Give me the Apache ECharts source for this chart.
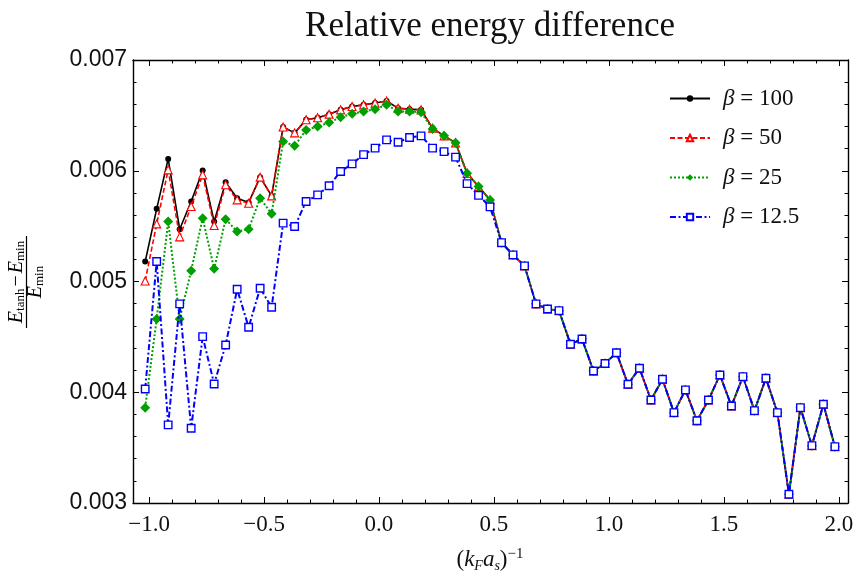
<!DOCTYPE html>
<html>
<head>
<meta charset="utf-8">
<script src="https://cdn.jsdelivr.net/npm/echarts@6/dist/echarts.min.js"></script>
<style>html,body{margin:0;padding:0;background:#fff;}#c{width:857px;height:576px;}</style>
</head>
<body>
<div id="c"></div>
<script>
// ---- data ----
const xs = [-1.017, -0.967, -0.917, -0.867, -0.817, -0.767, -0.717, -0.667, -0.617, -0.567,
  -0.517, -0.467, -0.417, -0.367, -0.317, -0.267, -0.217, -0.167, -0.117, -0.067,
  -0.017, 0.033, 0.083, 0.133, 0.183, 0.233, 0.283, 0.333, 0.383, 0.433,
  0.483, 0.533, 0.583, 0.633, 0.683, 0.733, 0.783, 0.833, 0.883, 0.933,
  0.983, 1.033, 1.083, 1.133, 1.183, 1.233, 1.283, 1.333, 1.383, 1.433,
  1.483, 1.533, 1.583, 1.633, 1.683, 1.733, 1.783, 1.833, 1.883, 1.933,
  1.983];

const beta100 = [0.00518, 0.005656, 0.006107, 0.005472, 0.005722, 0.006002, 0.005541, 0.005897, 0.005752, 0.005713,
  0.005942, 0.005773, 0.006395, 0.006342, 0.00646, 0.006478, 0.006511, 0.00655, 0.00658, 0.006595,
  0.006611, 0.00663, 0.006565, 0.006556, 0.00655, 0.006385, 0.006315, 0.006252, 0.005978, 0.005857,
  0.005737, 0.005351, 0.00524, 0.005141, 0.004798, 0.004752, 0.004737, 0.004434, 0.004481, 0.004192,
  0.00426, 0.004357, 0.004072, 0.004217, 0.00393, 0.004117, 0.003816, 0.004021, 0.003743, 0.00393,
  0.004156, 0.003876, 0.004141, 0.003834, 0.004126, 0.003816, 0.003079, 0.003861, 0.003518, 0.003892,
  0.003509];

const beta50 = [0.005005, 0.00552, 0.006008, 0.005403, 0.005677, 0.005963, 0.005505, 0.005873, 0.005737, 0.005707,
  0.005942, 0.005773, 0.006395, 0.006342, 0.00646, 0.006478, 0.006511, 0.00655, 0.00658, 0.006595,
  0.006611, 0.00663, 0.006565, 0.006556, 0.00655, 0.006385, 0.006315, 0.006252, 0.005978, 0.005857,
  0.005737, 0.005351, 0.00524, 0.005141, 0.004798, 0.004752, 0.004737, 0.004434, 0.004481, 0.004192,
  0.00426, 0.004357, 0.004072, 0.004217, 0.00393, 0.004117, 0.003816, 0.004021, 0.003743, 0.00393,
  0.004156, 0.003876, 0.004141, 0.003834, 0.004126, 0.003816, 0.003079, 0.003861, 0.003518, 0.003892,
  0.003509];

const beta25 = [0.003861, 0.004662, 0.005541, 0.004662, 0.005098, 0.005572, 0.005114, 0.005563, 0.005451, 0.005472,
  0.005752, 0.005611, 0.006264, 0.006225, 0.006369, 0.006399, 0.006435, 0.006484, 0.006514, 0.006535,
  0.006556, 0.006595, 0.006535, 0.006535, 0.006529, 0.006376, 0.006315, 0.006252, 0.005978, 0.005857,
  0.005737, 0.005351, 0.00524, 0.005141, 0.004798, 0.004752, 0.004737, 0.004434, 0.004481, 0.004192,
  0.00426, 0.004357, 0.004072, 0.004217, 0.00393, 0.004117, 0.003816, 0.004021, 0.003743, 0.00393,
  0.004156, 0.003876, 0.004141, 0.003834, 0.004126, 0.003816, 0.003079, 0.003861, 0.003518, 0.003892,
  0.003509];

const beta12_5 = [0.00403, 0.00518, 0.003705, 0.004798, 0.003675, 0.004502, 0.004075, 0.004427, 0.00493, 0.004587,
  0.004939, 0.004768, 0.005527, 0.005496, 0.005722, 0.005782, 0.005864, 0.005993, 0.006062, 0.006146,
  0.006204, 0.006279, 0.006258, 0.0063, 0.006315, 0.006204, 0.006173, 0.006123, 0.005884, 0.005778,
  0.005674, 0.005351, 0.00524, 0.005141, 0.004798, 0.004752, 0.004737, 0.004434, 0.004481, 0.004192,
  0.00426, 0.004357, 0.004072, 0.004217, 0.00393, 0.004117, 0.003816, 0.004021, 0.003743, 0.00393,
  0.004156, 0.003876, 0.004141, 0.003834, 0.004126, 0.003816, 0.003079, 0.003861, 0.003518, 0.003892,
  0.003509];

const seriesNames = ['β = 100', 'β = 50', 'β = 25', 'β = 12.5'];

const xMajorTicks = [-1, -0.5, 0, 0.5, 1, 1.5, 2];
const xMinorTicks = [-0.9, -0.8, -0.7, -0.6, -0.4, -0.3, -0.2, -0.1, 0.1, 0.2, 0.3, 0.4,
  0.6, 0.7, 0.8, 0.9, 1.1, 1.2, 1.3, 1.4, 1.6, 1.7, 1.8, 1.9];
const yMajorTicks = [0.003, 0.004, 0.005, 0.006, 0.007];
const yMinorTicks = [0.0032, 0.0034, 0.0036, 0.0038, 0.0042, 0.0044, 0.0046, 0.0048,
  0.0052, 0.0054, 0.0056, 0.0058, 0.0062, 0.0064, 0.0066, 0.0068];

// ---- chart ----
const SERIF = "'Liberation Serif', 'DejaVu Serif', serif";
const SANS = "'Liberation Sans', Arial, sans-serif";
const XMIN = -1.07, XMAX = 2.04, YMIN = 0.003, YMAX = 0.007;

function pairs(ys) { return xs.map((x, i) => [x, ys[i]]); }

function xAxisDef(pos, ticks, len, showLabel, showLine) {
  return {
    type: 'value', position: pos, min: XMIN, max: XMAX, gridIndex: 0,
    axisLine: { show: showLine, onZero: false, lineStyle: { color: '#000', width: 1.4 } },
    axisTick: { show: true, inside: true, length: len, customValues: ticks, lineStyle: { color: '#000', width: 1 } },
    axisLabel: {
      show: showLabel, customValues: xMajorTicks, margin: 10,
      fontFamily: SERIF, fontSize: 23, color: '#111',
      formatter: v => (v < 0 ? '\u2212' + Math.abs(v).toFixed(1) : v.toFixed(1))
    },
    splitLine: { show: false }
  };
}
function yAxisDef(pos, ticks, len, showLabel, showLine) {
  return {
    type: 'value', position: pos, min: YMIN, max: YMAX, gridIndex: 0,
    axisLine: { show: showLine, onZero: false, lineStyle: { color: '#000', width: 1.4 } },
    axisTick: { show: true, inside: true, length: len, customValues: ticks, lineStyle: { color: '#000', width: 1 } },
    axisLabel: {
      show: showLabel, customValues: yMajorTicks, margin: 6,
      fontFamily: SANS, fontSize: 23, color: '#111',
      formatter: v => v.toFixed(3)
    },
    splitLine: { show: false }
  };
}

const rich = {
  e: { fontFamily: SERIF, fontStyle: 'italic', fontSize: 20, lineHeight: 22, verticalAlign: 'middle', fill: '#000' },
  s: { fontFamily: SERIF, fontSize: 13, lineHeight: 12, verticalAlign: 'bottom', fill: '#000' },
  o: { fontFamily: SERIF, fontSize: 20, lineHeight: 22, verticalAlign: 'middle', fill: '#000', padding: [0, 2, 0, 2] }
};

const option = {
  animation: false,
  backgroundColor: '#fff',
  grid: { left: 133, right: 9, top: 60, bottom: 73, containLabel: false },
  xAxis: [
    xAxisDef('bottom', xMajorTicks, 6, true, true),
    xAxisDef('bottom', xMinorTicks, 3.5, false, false),
    xAxisDef('top', xMajorTicks, 6, false, true),
    xAxisDef('top', xMinorTicks, 3.5, false, false)
  ],
  yAxis: [
    yAxisDef('left', yMajorTicks, 6, true, true),
    yAxisDef('left', yMinorTicks, 3.5, false, false),
    yAxisDef('right', yMajorTicks, 6, false, true),
    yAxisDef('right', yMinorTicks, 3.5, false, false)
  ],
  legend: {
    orient: 'vertical', left: 664, top: 82,
    itemWidth: 40, itemHeight: 8, itemGap: 16.5,
    data: seriesNames,
    textStyle: {
      fontFamily: SERIF, fontSize: 23, lineHeight: 22, color: '#111', padding: [0, 0, 0, 8],
      rich: { g: { fontFamily: SERIF, fontStyle: 'italic', fontSize: 23, lineHeight: 22, color: '#111' } }
    },
    formatter: name => '{g|β}' + name.substring(1)
  },
  series: [
    {
      name: seriesNames[0], type: 'line', data: pairs(beta100),
      symbol: 'circle', symbolSize: 6, showAllSymbol: true,
      lineStyle: { color: '#000', width: 1.6, type: 'solid' },
      itemStyle: { color: '#000' }, z: 2
    },
    {
      name: seriesNames[1], type: 'line', data: pairs(beta50),
      symbol: 'triangle', symbolSize: 8, showAllSymbol: true,
      lineStyle: { color: '#ff0000', width: 1.6, type: [5, 2.5] },
      itemStyle: { color: '#fff', borderColor: '#ff0000', borderWidth: 1.1 }, z: 3
    },
    {
      name: seriesNames[2], type: 'line', data: pairs(beta25),
      symbol: 'diamond', symbolSize: 10, showAllSymbol: true,
      lineStyle: { color: '#00a000', width: 2, type: [2, 2] },
      itemStyle: { color: '#00a000' }, z: 4
    },
    {
      name: seriesNames[3], type: 'line', data: pairs(beta12_5),
      symbol: 'rect', symbolSize: 7.5, showAllSymbol: true,
      lineStyle: { color: '#0000ff', width: 2, type: [6, 2.5, 2, 2.5] },
      itemStyle: { color: '#fff', borderColor: '#0000ff', borderWidth: 1.4 }, z: 5
    }
  ],
  graphic: [
    {
      type: 'text', x: 490, y: 27,
      style: { text: 'Relative energy difference', fontFamily: SERIF, fontSize: 35, fill: '#111', align: 'center', verticalAlign: 'middle' }
    },
    {
      type: 'text', x: 490, y: 560,
      style: {
        text: '{p|(}{i|k}{b|F}{i|a}{b|s}{p|)}{t|\u22121}', align: 'center', verticalAlign: 'middle',
        rich: {
          p: { fontFamily: SERIF, fontSize: 23, lineHeight: 26, verticalAlign: 'middle', fill: '#111' },
          i: { fontFamily: SERIF, fontStyle: 'italic', fontSize: 23, lineHeight: 26, verticalAlign: 'middle', fill: '#111' },
          b: { fontFamily: SERIF, fontStyle: 'italic', fontSize: 14, lineHeight: 14, verticalAlign: 'bottom', fill: '#111' },
          t: { fontFamily: SERIF, fontSize: 15, lineHeight: 15, verticalAlign: 'top', fill: '#111' }
        }
      }
    },
    {
      type: 'group', x: 26.5, y: 282, rotation: Math.PI / 2,
      children: [
        { type: 'text', x: 0, y: -10, style: { text: '{e|E}{s|tanh}{o|\u2212}{e|E}{s|min}', rich: rich, align: 'center', verticalAlign: 'middle' } },
        { type: 'line', shape: { x1: -46, y1: 0, x2: 46, y2: 0 }, style: { stroke: '#000', lineWidth: 1.2 } },
        { type: 'text', x: 0, y: 9, style: { text: '{e|E}{s|min}', rich: rich, align: 'center', verticalAlign: 'middle' } }
      ]
    }
  ]
};

const chart = echarts.init(document.getElementById('c'), null, { renderer: 'canvas' });
chart.setOption(option);
</script>
</body>
</html>
